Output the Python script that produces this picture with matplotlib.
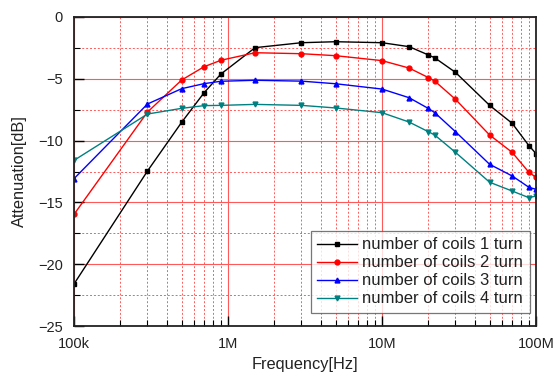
import matplotlib
matplotlib.use("Agg")
import matplotlib.pyplot as plt
from matplotlib.ticker import FixedLocator, LogLocator, NullFormatter

plt.rcParams['font.family'] = ['Liberation Sans', 'DejaVu Sans']

freq = [1e5, 3e5, 5e5, 7e5, 9e5, 1.5e6, 3e6, 5e6, 1e7, 1.5e7, 2e7, 2.2e7, 3e7, 5e7, 7e7, 9e7, 1e8]
coil1 = [-21.6, -12.46, -8.52, -6.12, -4.61, -2.48, -2.08, -2.0, -2.08, -2.4, -3.07, -3.3, -4.48, -7.15, -8.6, -10.41, -11.05]
coil2 = [-15.97, -7.69, -5.1, -4.02, -3.5, -2.89, -2.97, -3.13, -3.53, -4.13, -4.9, -5.18, -6.66, -9.55, -10.95, -12.57, -12.97]
coil3 = [-13.08, -7.04, -5.8, -5.39, -5.2, -5.12, -5.19, -5.4, -5.83, -6.53, -7.4, -7.74, -9.28, -11.92, -12.86, -13.78, -13.94]
coil4 = [-11.6, -7.85, -7.39, -7.17, -7.15, -7.07, -7.15, -7.36, -7.74, -8.5, -9.28, -9.55, -10.95, -13.37, -14.08, -14.62, -14.48]

labels = ['number of coils 1 turn', 'number of coils 2 turn',
          'number of coils 3 turn', 'number of coils 4 turn']
series = [coil1, coil2, coil3, coil4]
colors = ['#000000', '#ff0000', '#0000ff', '#008080']
markers = ['s', 'o', '^', 'v']

xticks = [1e5, 1e6, 1e7, 1e8]
xticklabels = ['100k', '1M', '10M', '100M']
yticks = [0, -5, -10, -15, -20, -25]

fig = plt.figure(figsize=(5.53, 3.74), dpi=100)
ax = fig.add_axes([74/553, 1-326/374, (536-74)/553, (326-17)/374])

for y, lab, c, m in zip(series, labels, colors, markers):
    ax.plot(freq, y, color=c, marker=m, markersize=3.5, linewidth=1.0, label=lab)

ax.set_xscale('log')
ax.set_xlim(1e5, 1e8)
ax.set_ylim(-25, 0)
ax.set_xticks(xticks)
ax.set_xticklabels(xticklabels)
ax.xaxis.set_minor_locator(LogLocator(base=10, subs=range(2, 10)))
ax.xaxis.set_minor_formatter(NullFormatter())
ax.set_yticks(yticks)
ax.yaxis.set_minor_locator(FixedLocator([-2.5, -7.5, -12.5, -17.5, -22.5]))

ax.grid(which='major', color='#ff5a5a', linestyle='-', linewidth=0.8)
ax.grid(which='minor', color='#ff5a5a', linestyle=(0, (2, 2)), linewidth=0.7)
ax.set_axisbelow(True)

ax.tick_params(which='both', direction='in', top=False, right=False, labelsize=10.5, pad=8,
               labelcolor='#222222')
ax.tick_params(which='major', length=7, width=1)
ax.tick_params(which='minor', length=4, width=0.8)
for s in ax.spines.values():
    s.set_linewidth(1.3)
    s.set_color('#222222')

ax.set_xlabel('Frequency[Hz]', fontsize=11.8, labelpad=4, color='#222222')
ax.set_ylabel('Attenuation[dB]', fontsize=11.8, labelpad=8, color='#222222')

leg = ax.legend(loc='lower right', bbox_to_anchor=((530-74)/462, (326-313)/309),
                fontsize=12, frameon=True, fancybox=False, edgecolor='#555555',
                handlelength=2.4, borderpad=0.4, labelspacing=0.18, handletextpad=0.3,
                borderaxespad=0)
leg._legend_box.align = 'right'
leg.get_frame().set_linewidth(0.9)
for t in leg.get_texts():
    t.set_color('#222222')
fig.canvas.draw()
bb = leg.get_window_extent()
# widen the frame on the left to match the reference box width
frame = leg.get_frame()
frame.set_x(frame.get_x() - 12)
frame.set_width(frame.get_width() + 12)

fig.savefig('out.png', dpi=100)
